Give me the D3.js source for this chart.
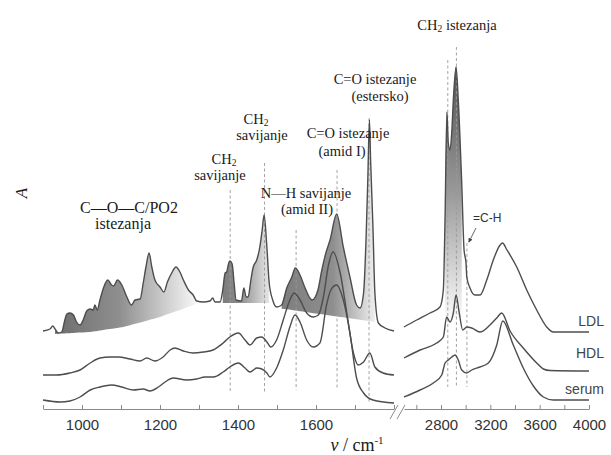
<!DOCTYPE html>
<meta charset="utf-8">
<head>
  <style>
    body { margin: 0; background: #fff; }
    svg { display: block; }
    .serif { font-family: 'Liberation Serif', 'Times New Roman', serif; fill: #1a1a1a; }
    .sans { font-family: 'Liberation Sans', Arial, sans-serif; }
    .spec { fill: none; stroke: #4d4d4d; stroke-width: 1.4; stroke-linejoin: round; }
    .mark { stroke: #9a9a9a; stroke-width: 0.9; stroke-dasharray: 3,2.5; }
    .axis path, .axis line { stroke: #8a8a8a; }
    .axis text { font-family: 'Liberation Sans', Arial, sans-serif; font-size: 15px; fill: #333; }
  </style>
</head>
<body>
<svg id="chart" width="611" height="455"></svg>

<script src="https://d3js.org/d3.v7.min.js"></script>
<script>

  // wavenumber (cm-1), absorbance (arb. units)
  var ldlLow = [[900,0.79],[918,0.81],[925,0.84],[931,0.81],[939,0.77],[948,0.78],[956,0.90],[961,0.96],[969,0.97],[978,0.95],
    [986,0.88],[995,0.85],[1003,0.90],[1012,0.99],[1021,1.01],[1029,1.00],[1033,1.05],[1039,1.00],[1046,1.10],[1055,1.22],
    [1066,1.30],[1076,1.25],[1081,1.24],[1091,1.30],[1102,1.25],[1115,1.13],[1127,1.05],[1136,1.10],[1149,1.11],[1157,1.27],
    [1164,1.43],[1172,1.57],[1179,1.43],[1187,1.30],[1200,1.23],[1210,1.18],[1219,1.28],[1230,1.37],[1241,1.43],[1251,1.38],
    [1260,1.30],[1273,1.20],[1285,1.15],[1294,1.09],[1311,1.08],[1328,1.09],[1335,1.12],[1341,1.08],[1354,1.08],[1361,1.20],
    [1367,1.37],[1371,1.38],[1375,1.45],[1379,1.49],[1385,1.46],[1390,1.27],[1395,1.10],[1409,1.09],[1415,1.22],[1421,1.13],
    [1426,1.13],[1433,1.30],[1439,1.43],[1448,1.50],[1456,1.63],[1462,1.80],[1467,1.95],[1474,1.63],[1480,1.27],[1489,1.10],
    [1499,1.03],[1512,1.05],[1525,1.22],[1538,1.33],[1547,1.42],[1559,1.35],[1572,1.22],[1590,1.10],[1605,1.20],[1615,1.40],
    [1626,1.58],[1636,1.70],[1653,1.96],[1670,1.63],[1687,1.33],[1704,1.05],[1713,1.02],[1722,1.17],[1728,1.67],[1733,2.33],
    [1737,2.90],[1740,2.50],[1746,1.83],[1751,1.17],[1760,0.87],[1777,0.82],[1800,0.79]];
  var ldlHigh = [[2500,0.83],[2603,0.90],[2711,0.97],[2792,1.03],[2819,1.20],[2833,1.93],[2848,2.98],[2859,2.67],[2873,2.60],
    [2887,2.77],[2900,3.10],[2922,3.43],[2940,3.10],[2968,2.27],[2987,1.60],[3003,1.47],[3009,1.33],[3035,1.22],[3076,1.15],
    [3116,1.15],[3171,1.30],[3224,1.50],[3279,1.65],[3299,1.67],[3335,1.60],[3414,1.43],[3495,1.20],[3576,1.00],[3657,0.83],
    [3711,0.78],[4000,0.78]];

  var hdlLow = [[900,0.35],[935,0.35],[969,0.37],[995,0.40],[1021,0.47],[1046,0.52],[1072,0.53],[1093,0.53],[1123,0.51],
    [1149,0.49],[1166,0.52],[1187,0.49],[1208,0.53],[1226,0.60],[1238,0.62],[1260,0.59],[1285,0.57],[1311,0.58],[1336,0.60],
    [1362,0.67],[1379,0.73],[1401,0.77],[1418,0.70],[1431,0.65],[1448,0.72],[1461,0.73],[1474,0.68],[1484,0.63],[1499,0.70],
    [1516,0.90],[1533,1.10],[1544,1.17],[1559,1.10],[1576,0.97],[1593,0.93],[1606,0.95],[1619,1.13],[1632,1.45],[1644,1.58],
    [1662,1.37],[1679,0.97],[1696,0.57],[1708,0.45],[1722,0.48],[1738,0.57],[1751,0.43],[1772,0.37],[1800,0.35]];
  var hdlHigh = [[2500,0.52],[2630,0.60],[2765,0.67],[2819,0.73],[2846,0.93],[2873,0.88],[2900,0.97],[2922,1.15],[2948,0.97],
    [2976,0.80],[3009,0.83],[3049,0.82],[3116,0.78],[3197,0.85],[3252,0.92],[3292,0.97],[3360,0.79],[3467,0.62],[3576,0.47],
    [3630,0.41],[3684,0.395],[4000,0.39]];

  var serumLow = [[900,0.10],[944,0.08],[969,0.09],[995,0.13],[1021,0.20],[1046,0.23],[1076,0.25],[1102,0.23],[1132,0.20],
    [1157,0.21],[1174,0.19],[1196,0.23],[1213,0.28],[1234,0.32],[1268,0.30],[1294,0.31],[1315,0.33],[1337,0.33],[1362,0.38],
    [1379,0.43],[1401,0.47],[1418,0.42],[1431,0.38],[1448,0.42],[1461,0.41],[1474,0.37],[1482,0.33],[1499,0.42],[1516,0.60],
    [1533,0.83],[1546,0.95],[1559,0.88],[1576,0.70],[1593,0.63],[1610,0.67],[1627,1.05],[1638,1.20],[1653,1.25],[1670,1.10],
    [1687,0.77],[1704,0.32],[1722,0.17],[1746,0.10],[1800,0.07]];
  var serumHigh = [[2500,0.13],[2630,0.20],[2738,0.27],[2806,0.35],[2833,0.47],[2859,0.50],[2887,0.53],[2914,0.55],[2940,0.50],
    [2968,0.40],[3009,0.37],[3049,0.40],[3116,0.43],[3184,0.47],[3252,0.65],[3301,0.89],[3386,0.65],[3467,0.42],[3549,0.24],
    [3630,0.13],[3711,0.10],[4000,0.10]];

  // band assignments (dashed guides): wavenumber, top, bottom
  var markNu  = [1380, 1468, 1549, 1654, 1736, 2855, 2925, 3010];
  var markTop = [2.20, 2.47, 1.80, 2.40, 2.92, 3.50, 3.63, 1.67];
  var markBot = [0.18, 0.17, 0.20, 0.20, 0.07, 0.23, 0.23, 0.23];

  // lower edge of the grey shading under LDL
  var shadeLeftNu = [930, 1021, 1106, 1192, 1251, 1300];
  var shadeLeftA  = [0.76, 0.78, 0.83, 0.92, 1.00, 1.07];
  var shadeMidNu = [1355, 1487], shadeMidA = [1.07, 1.07];
  var shadeAmNu = [1500, 1755], shadeAmA = [1.02, 0.88];
  var shadeChNu = [2826, 2975], shadeChA = [0.92, 0.92];

  var lowTicks = d3.range(900, 1801, 100), lowLabels = [1000, 1200, 1400, 1600];
  var highTicks = d3.range(2600, 4001, 200), highLabels = [2800, 3200, 3600, 4000];

  var svg = d3.select("#chart");
  var xL = d3.scaleLinear().domain([900, 1800]).range([43, 394]);
  var xR = d3.scaleLinear().domain([2500, 4000]).range([404, 589]);
  var y = d3.scaleLinear().domain([0, 3.6]).range([410, 50]);
  function xAny(nu) { return nu < 2000 ? xL(nu) : xR(nu); }

  var defs = svg.append("defs");
  function grad(id, x1, y1, x2, y2, stops) {
    var g = defs.append("linearGradient").attr("id", id).attr("gradientUnits", "userSpaceOnUse")
      .attr("x1", x1).attr("y1", y1).attr("x2", x2).attr("y2", y2);
    stops.forEach(function (s) { g.append("stop").attr("offset", s[0]).attr("stop-color", s[1]); });
  }
  grad("gLeft", xL(930), 0, xL(1300), 0, [[0, "#6d6d6d"], [0.45, "#8f8f8f"], [0.8, "#d4d4d4"], [1, "#fafafa"]]);
  grad("gMid", xL(1355), 0, xL(1490), 0, [[0, "#7a7a7a"], [0.35, "#8a8a8a"], [1, "#f2f2f2"]]);
  grad("gAm", xL(1500), 0, xL(1760), 0, [[0, "#7c7c7c"], [0.55, "#8e8e8e"], [0.8, "#c8c8c8"], [1, "#f6f6f6"]]);
  grad("gCh", 0, y(3.4), 0, y(0.92), [[0, "#555"], [0.5, "#9a9a9a"], [1, "#fafafa"]]);

  function shade(data, x, nuArr, aArr, fill) {
    var base = d3.scaleLinear().domain(nuArr).range(aArr).clamp(true);
    var pts = data.filter(function (d) { return d[0] >= nuArr[0] && d[0] <= nuArr[nuArr.length - 1]; });
    var area = d3.area().curve(d3.curveMonotoneX)
      .x(function (d) { return x(d[0]); })
      .y0(function (d) { return y(base(d[0])); })
      .y1(function (d) { return y(Math.max(d[1], base(d[0]))); });
    svg.append("path").attr("d", area(pts)).attr("fill", fill).attr("stroke", "none");
  }
  shade(ldlLow, xL, shadeLeftNu, shadeLeftA, "url(#gLeft)");
  shade(ldlLow, xL, shadeMidNu, shadeMidA, "url(#gMid)");
  shade(ldlLow, xL, shadeAmNu, shadeAmA, "url(#gAm)");
  shade(ldlHigh, xR, shadeChNu, shadeChA, "url(#gCh)");

  // dashed guides
  svg.selectAll(".mark").data(markNu).enter().append("line")
    .attr("class", "mark")
    .attr("x1", function (d) { return xAny(d); }).attr("x2", function (d) { return xAny(d); })
    .attr("y1", function (d, i) { return y(markTop[i]); })
    .attr("y2", function (d, i) { return y(markBot[i]); });

  // spectra
  [[ldlLow, xL], [ldlHigh, xR], [hdlLow, xL], [hdlHigh, xR], [serumLow, xL], [serumHigh, xR]].forEach(function (s) {
    var line = d3.line().curve(d3.curveMonotoneX)
      .x(function (d) { return s[1](d[0]); }).y(function (d) { return y(d[1]); });
    svg.append("path").attr("class", "spec").attr("d", line(s[0]));
  });

  // axes
  var axisY = 409;
  svg.append("g").attr("class", "axis").attr("transform", "translate(0," + axisY + ")")
    .call(d3.axisBottom(xL).tickValues(lowTicks).tickSizeInner(-4).tickSizeOuter(0).tickPadding(10)
      .tickFormat(function (d) { return lowLabels.indexOf(d) >= 0 ? d : ""; }));
  svg.append("g").attr("class", "axis").attr("transform", "translate(0," + axisY + ")")
    .call(d3.axisBottom(xR).tickValues(highTicks).tickSizeInner(-4).tickSizeOuter(0).tickPadding(10)
      .tickFormat(function (d) { return highLabels.indexOf(d) >= 0 ? d : ""; }));

  // axis break
  svg.append("line").attr("x1", 390).attr("y1", 419).attr("x2", 398).attr("y2", 405).attr("stroke", "#8a8a8a");
  svg.append("line").attr("x1", 397).attr("y1", 419).attr("x2", 405).attr("y2", 405).attr("stroke", "#8a8a8a");

  // axis titles
  var xt = svg.append("text").attr("class", "serif").attr("x", 357).attr("y", 451)
    .attr("text-anchor", "middle").style("font-size", "18px");
  xt.append("tspan").style("font-style", "italic").text("ν");
  xt.append("tspan").text(" / cm");
  xt.append("tspan").attr("dy", -7).style("font-size", "11px").text("-1");

  svg.append("text").attr("class", "serif").attr("transform", "translate(27,193) rotate(-90)")
    .attr("text-anchor", "middle").style("font-size", "17px").style("font-style", "italic").text("A");

  // band labels
  function label(x, yy, parts, size) {
    var t = svg.append("text").attr("class", "serif").attr("x", x).attr("y", yy)
      .attr("text-anchor", "middle").style("font-size", (size || 14.5) + "px");
    parts.forEach(function (p) {
      if (typeof p === "string") t.append("tspan").text(p);
      else t.append("tspan").attr("dy", p.dy).style("font-size", p.fs + "px").text(p.t);
    });
  }
  label(129, 213, ["C—O—C/PO2"], 16);
  label(123, 229, ["istezanja"], 16);
  label(224, 164, ["CH", {t: "2", dy: 2, fs: 9.5}]);
  label(220, 180, ["savijanje"]);
  label(256, 124, ["CH", {t: "2", dy: 2, fs: 9.5}]);
  label(262, 140, ["savijanje"]);
  label(306, 198, ["N—H savijanje"]);
  label(307, 214, ["(amid II)"]);
  label(348, 138, ["C=O istezanje"]);
  label(342, 156, ["(amid I)"]);
  label(375, 84, ["C=O istezanje"]);
  label(380, 101, ["(estersko)"]);
  label(457, 30, ["CH", {t: "2", dy: 2, fs: 9.5}, {t: " istezanja", dy: -2, fs: 14.5}]);

  // =C-H pointer
  svg.append("text").attr("class", "sans").attr("x", 473).attr("y", 222)
    .style("font-size", "12px").style("fill", "#333").text("=C-H");
  defs.append("marker").attr("id", "arr").attr("viewBox", "0 0 6 6").attr("refX", 5).attr("refY", 3)
    .attr("markerWidth", 5).attr("markerHeight", 5).attr("orient", "auto")
    .append("path").attr("d", "M0,0L6,3L0,6Z").attr("fill", "#444");
  svg.append("line").attr("x1", 476).attr("y1", 228).attr("x2", xR(3010) + 2).attr("y2", y(1.67) - 1)
    .attr("stroke", "#555").attr("stroke-width", 0.9).attr("marker-end", "url(#arr)");

  // series names
  var names = ["LDL", "HDL", "serum"], nameY = [326, 358, 394];
  svg.selectAll(".sname").data(names).enter().append("text")
    .attr("class", "sans").attr("x", 604).attr("y", function (d, i) { return nameY[i]; })
    .attr("text-anchor", "end").style("font-size", "14px").style("fill", "#444")
    .text(function (d) { return d; });

</script>
</body>
